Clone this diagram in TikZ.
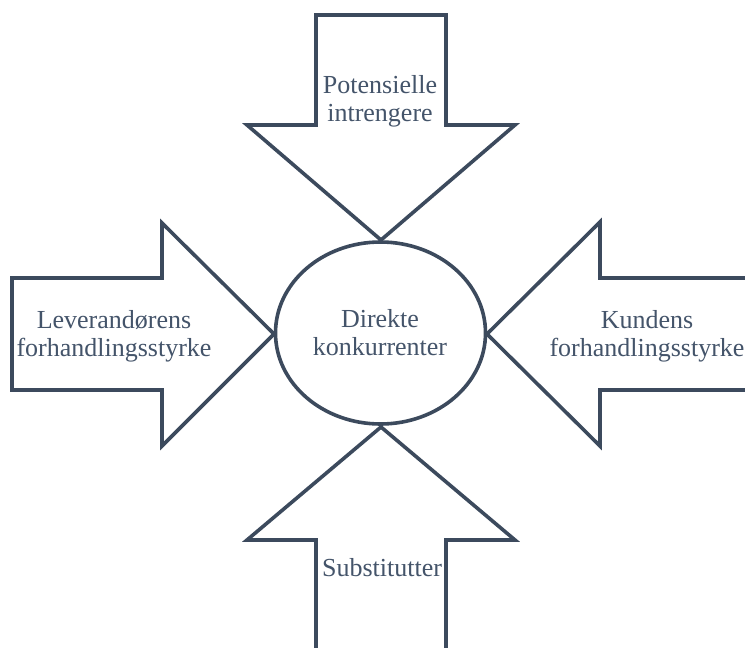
\documentclass[tikz,border=0pt]{standalone}
\usepackage{fontspec}
\setmainfont{Liberation Serif}
\usetikzlibrary{shapes.geometric}
\definecolor{slate}{HTML}{3C4A5D}
\definecolor{slatetext}{HTML}{44546A}
\begin{document}
\begin{tikzpicture}[x=1pt, y=-1pt,
  force/.style={draw=slate, line width=3.6pt, line join=miter, fill=white},
  label/.style={text=slatetext, font=\fontsize{26pt}{28pt}\selectfont, align=center, inner sep=0pt},
  rival/.style={ellipse, draw=slate, line width=3.6pt, fill=white, minimum width=210pt, minimum height=182pt, inner sep=0pt}]
  \useasboundingbox (0,0) rectangle (745,648);
  \clip (0,0) rectangle (745,648);
  % Porter's five forces: four block arrows pointing at the centre
  % threat of new entrants (top)
  \draw[force] (316,15) -- (446,15) -- (446,125) -- (515,125) -- (381,240)
    -- (247,125) -- (316,125) -- cycle;
  % threat of substitutes (bottom)
  \draw[force] (381,427) -- (515,540) -- (446,540) -- (446,665) -- (316,665)
    -- (316,540) -- (247,540) -- cycle;
  % bargaining power of suppliers (left)
  \draw[force] (12,278) -- (162,278) -- (162,223) -- (274,334) -- (162,446)
    -- (162,390) -- (12,390) -- cycle;
  % bargaining power of buyers (right)
  \draw[force] (487,334) -- (600,222) -- (600,278) -- (765,278) -- (765,390)
    -- (600,390) -- (600,446) -- cycle;
  % rivalry among existing competitors
  \node[rival] (rivalry) at (380.5,333) {};
  \node[label] (rivalrytext) at (380,333) {Direkte\\konkurrenter};
  \node[label] (entrants) at (380,101) {Potensielle\\intrengere};
  \node[label] (suppliers) at (114,336) {Leverandørens\\forhandlingsstyrke};
  \node[label] (buyers) at (647,336) {Kundens\\forhandlingsstyrke};
  \node[label] (substitutes) at (382,568) {Substitutter};
\end{tikzpicture}
\end{document}
